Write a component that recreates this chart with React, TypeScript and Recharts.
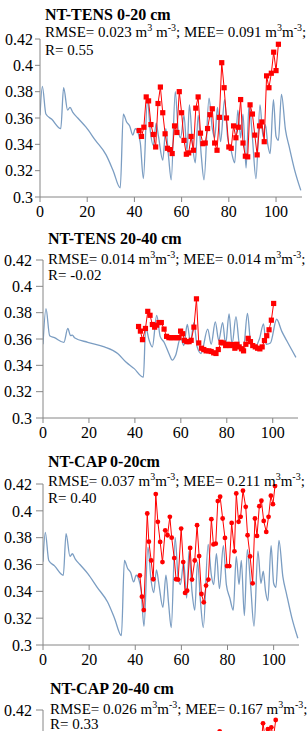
import React from 'react';
import { LineChart, Line, XAxis, YAxis } from 'recharts';

const xTicks = [0, 20, 40, 60, 80, 100];
const yTicks = [0.3, 0.32, 0.34, 0.36, 0.38, 0.4, 0.42];
const yTicksTopOnly = [0.42];

// Simulated soil water content, 0-20 cm (panels 1 and 3)
const model020Days = [0, 1, 2.5, 5, 8.8, 10, 11.7, 12.7, 14, 16, 19.5, 23.5, 28, 31, 34, 35.3, 36.7, 38, 39.3, 40.4, 41.5, 42.5, 43.8, 45.5, 46.8, 48, 49.2, 50.2, 52, 53.3, 54.5, 55.6, 57.3, 58.6, 59.6, 61, 62.3, 63.3, 64.6, 65.8, 67, 68.3, 69.5, 71.6, 73, 74, 75.2, 76.5, 78.2, 79.5, 81, 82.5, 83.8, 85, 86, 87.3, 88.6, 90, 91.5, 93.2, 94.5, 95.5, 96.5, 97.5, 98.9, 100, 101, 102.3, 104, 105.6, 107.8, 110.5];
const model020Vals = [0.362, 0.384, 0.363, 0.359, 0.352, 0.383, 0.366, 0.368, 0.364, 0.36, 0.353, 0.343, 0.332, 0.32, 0.307, 0.363, 0.357, 0.354, 0.347, 0.352, 0.349, 0.341, 0.314, 0.373, 0.349, 0.339, 0.356, 0.346, 0.328, 0.352, 0.33, 0.313, 0.38, 0.35, 0.345, 0.362, 0.335, 0.37, 0.34, 0.326, 0.362, 0.332, 0.313, 0.375, 0.352, 0.345, 0.368, 0.342, 0.374, 0.345, 0.335, 0.326, 0.366, 0.345, 0.363, 0.322, 0.371, 0.345, 0.314, 0.37, 0.346, 0.355, 0.34, 0.333, 0.374, 0.346, 0.343, 0.378, 0.351, 0.338, 0.321, 0.305];

// Simulated soil water content, 20-40 cm (panels 2 and 4)
const model2040Days = [0, 1.3, 2.9, 5, 9.1, 10.8, 12, 12.8, 13.7, 19.5, 26.7, 32.5, 36.1, 39.7, 43.7, 44.7, 46.2, 47.6, 49.5, 51, 52.7, 54.8, 56.3, 57.7, 59.9, 61.3, 62.8, 64.2, 65.7, 67.1, 68.8, 71.7, 73.2, 75, 76.5, 78.2, 79.5, 81, 82.3, 84, 85.6, 87.3, 89, 90.5, 92.4, 94.2, 96, 97.1, 99, 101.7, 103.9, 106, 110.1];
const model2040Vals = [0.356, 0.383, 0.3625, 0.361, 0.3575, 0.368, 0.3625, 0.363, 0.361, 0.3575, 0.354, 0.349, 0.3425, 0.3375, 0.331, 0.369, 0.359, 0.354, 0.378, 0.362, 0.3575, 0.349, 0.344, 0.3475, 0.361, 0.355, 0.371, 0.3575, 0.3725, 0.354, 0.349, 0.3675, 0.356, 0.373, 0.359, 0.3725, 0.356, 0.379, 0.356, 0.377, 0.355, 0.354, 0.3795, 0.356, 0.354, 0.36, 0.3715, 0.356, 0.357, 0.375, 0.366, 0.359, 0.346];

// Observed NT-TENS 0-20 cm
const obsTens020Days = [42, 43, 44, 45, 46, 47, 48, 49, 50, 51, 52, 53, 54, 55, 56, 57, 58, 59, 60, 61, 62, 63, 64, 65, 66, 67, 68, 69, 70, 71, 72, 73, 74, 75, 76, 77, 78, 79, 80, 81, 82, 83, 84, 85, 86, 87, 88, 89, 90, 91, 92, 93, 94, 95, 96, 97, 98, 99, 100, 101];
const obsTens020Vals = [0.3505, 0.346, 0.353, 0.376, 0.373, 0.355, 0.3475, 0.338, 0.371, 0.3835, 0.364, 0.348, 0.337, 0.336, 0.333, 0.354, 0.349, 0.38, 0.364, 0.343, 0.3325, 0.3335, 0.346, 0.3355, 0.3675, 0.376, 0.3485, 0.3405, 0.341, 0.352, 0.3625, 0.367, 0.341, 0.3355, 0.3605, 0.402, 0.383, 0.36, 0.338, 0.337, 0.354, 0.345, 0.353, 0.374, 0.341, 0.331, 0.3305, 0.37, 0.363, 0.347, 0.332, 0.354, 0.357, 0.342, 0.392, 0.383, 0.394, 0.41, 0.396, 0.416];

// Observed NT-TENS 20-40 cm
const obsTens2040Days = [41.6, 42.4, 43.3, 44.6, 45.6, 46.6, 47.6, 48.6, 49.5, 50.5, 51.5, 52.7, 53.8, 54.8, 55.8, 57, 58.2, 59.2, 59.9, 60.8, 61.6, 62.6, 63.6, 64.5, 65.7, 66.8, 67.8, 69, 70, 71, 72.2, 73.2, 74.3, 75.3, 76.3, 77.5, 78.5, 79.5, 80.5, 81.5, 82.5, 83.5, 84.4, 85.4, 86.4, 87.3, 88.3, 89.3, 90.3, 91.3, 92.4, 93.4, 94.4, 95.4, 96.4, 97.4, 98.4, 99.4, 100.4];
const obsTens2040Vals = [0.3695, 0.366, 0.3595, 0.368, 0.381, 0.378, 0.371, 0.369, 0.3705, 0.3725, 0.3725, 0.3675, 0.362, 0.361, 0.361, 0.361, 0.361, 0.361, 0.366, 0.364, 0.359, 0.358, 0.358, 0.359, 0.369, 0.3905, 0.357, 0.353, 0.352, 0.351, 0.351, 0.3505, 0.3495, 0.349, 0.352, 0.3575, 0.357, 0.355, 0.356, 0.355, 0.3558, 0.353, 0.356, 0.354, 0.3525, 0.351, 0.356, 0.3605, 0.358, 0.355, 0.354, 0.353, 0.3525, 0.354, 0.3588, 0.3625, 0.367, 0.3743, 0.387];

// Observed NT-CAP 0-20 cm
const obsCap020Days = [42, 42.9, 43.7, 45.2, 45.9, 46.9, 47.8, 48.9, 49.8, 50.8, 51.8, 53, 54, 55, 55.8, 56.9, 57.7, 58.6, 59.9, 60.8, 61.6, 62.5, 63.8, 64.6, 65.8, 66.8, 67.7, 68.7, 69.7, 70.7, 71.7, 73, 73.9, 74.9, 75.8, 76.8, 77.9, 78.9, 79.8, 80.8, 81.8, 83, 83.8, 84.8, 85.7, 86.7, 87.9, 88.7, 89.8, 90.9, 91.9, 92.8, 93.8, 94.7, 95.7, 96.8, 97.8, 98.8, 99.7, 100.6];
const obsCap020Vals = [0.3518, 0.336, 0.326, 0.398, 0.377, 0.363, 0.349, 0.4125, 0.3918, 0.3768, 0.3618, 0.3855, 0.3818, 0.3955, 0.38, 0.3648, 0.349, 0.3488, 0.3868, 0.3618, 0.3388, 0.3405, 0.3723, 0.3488, 0.363, 0.3893, 0.3663, 0.338, 0.3318, 0.3443, 0.3488, 0.3938, 0.375, 0.3755, 0.4073, 0.4105, 0.3943, 0.3798, 0.3588, 0.3588, 0.391, 0.3698, 0.413, 0.3918, 0.3955, 0.415, 0.403, 0.3818, 0.366, 0.346, 0.3943, 0.3813, 0.4035, 0.4075, 0.3925, 0.3843, 0.3955, 0.4113, 0.405, 0.4185];

// Observed NT-CAP 20-40 cm (only the top of this panel is visible)
const obsCap2040Days = [75.6, 76.6, 77.6, 94.4, 95.4, 96.5, 97.5, 98.3, 99, 99.9, 100.9];
const obsCap2040Vals = [0.392, 0.404, 0.392, 0.39, 0.41, 0.397, 0.4057, 0.398, 0.407, 0.399, 0.4125];

const titles = ['NT-TENS 0-20 cm', 'NT-TENS 20-40 cm', 'NT-CAP 0-20cm', 'NT-CAP 20-40 cm'];
const statLines = [
  'RMSE= 0.023 m^3 m^-3; MEE= 0.091 m^3m^-3;',
  'RMSE= 0.014 m^3m^-3; MEE= 0.014 m^3m^-3;',
  'RMSE= 0.037 m^3m^-3; MEE= 0.211 m^3m^-3;',
  'RMSE= 0.026 m^3m^-3; MEE= 0.167 m^3m^-3;',
];
const rLines = ['R= 0.55', 'R= -0.02', 'R= 0.40', 'R= 0.33'];

const zip = (xs: number[], vs: number[]) => xs.map((x, i) => ({ x, v: vs[i] }));

const FONT = 'Liberation Serif, Tinos, Times New Roman, Times, DejaVu Serif, serif';
const AX = '#868686';
const BLUE = '#7b9dc2';
const RED = '#ff0000';

const panels = [
  { top: 0, height: 227, mTop: 39, axisX: 40, rightX: 302, ySize: 5, yMargin: 2, marker: 'square', cut: false, tx: 45, titleY: 20, statY: 37, rY: 55, model: zip(model020Days, model020Vals), obs: zip(obsTens020Days, obsTens020Vals) },
  { top: 222, height: 226, mTop: 38, axisX: 43, rightX: 298, ySize: 7, yMargin: 4, marker: 'square', cut: false, tx: 48, titleY: 244, statY: 264, rY: 280, model: zip(model2040Days, model2040Vals), obs: zip(obsTens2040Days, obsTens2040Vals) },
  { top: 446, height: 229, mTop: 38, axisX: 43, rightX: 299, ySize: 7, yMargin: 4, marker: 'circle', cut: false, tx: 48, titleY: 467, statY: 486, rY: 503, model: zip(model020Days, model020Vals), obs: zip(obsCap020Days, obsCap020Vals) },
  { top: 672, height: 228, mTop: 38, axisX: 43, rightX: 299, ySize: 7, yMargin: 4, marker: 'circle', cut: true, tx: 50, titleY: 694, statY: 714, rY: 729, model: zip(model2040Days, model2040Vals), obs: zip(obsCap2040Days, obsCap2040Vals) },
];

const fmtY = (v: number) => String(Number(v.toFixed(2)));

function rich(s: string) {
  const parts = s.split(/\^(-?\d)/);
  return parts.map((p, i) => {
    if (i % 2 === 1) {
      return (
        <tspan key={i} dy={-6} fontSize={10}>
          {p}
        </tspan>
      );
    }
    return (
      <tspan key={i} dy={i === 0 ? 0 : 6}>
        {p}
      </tspan>
    );
  });
}

function makeDot(shape: string) {
  return (p: any) => {
    const { cx, cy, index } = p;
    if (cx == null || cy == null) return <g key={`e${index}`} />;
    if (shape === 'square') {
      return <rect key={`d${index}`} x={cx - 2.6} y={cy - 2.6} width={5.2} height={5.2} fill={RED} />;
    }
    return <circle key={`d${index}`} cx={cx} cy={cy} r={2.4} fill={RED} />;
  };
}

const tickStyle = { fill: '#000', fontSize: 16, fontFamily: FONT, style: { fontFamily: FONT } };

function Panel({ cfg }: { cfg: any }) {
  return (
    <div style={{ position: 'absolute', left: 0, top: cfg.top, fontFamily: FONT }}>
      <LineChart
        width={308}
        height={cfg.height}
        margin={{ top: cfg.mTop, right: 308 - cfg.rightX, bottom: cfg.cut ? 30 : 0, left: 0 }}
        style={{ fontFamily: FONT }}
      >
        <XAxis
          type="number"
          dataKey="x"
          domain={[0, 111]}
          ticks={xTicks}
          interval={0}
          allowDataOverflow
          hide={cfg.cut}
          height={30}
          tickSize={5}
          tickMargin={4}
          axisLine={{ stroke: AX }}
          tickLine={{ stroke: AX }}
          tick={tickStyle}
        />
        <YAxis
          type="number"
          domain={[0.3, 0.42]}
          ticks={cfg.cut ? yTicksTopOnly : yTicks}
          interval={0}
          allowDataOverflow
          width={cfg.axisX}
          tickSize={cfg.ySize}
          tickMargin={cfg.yMargin}
          tickFormatter={fmtY}
          axisLine={{ stroke: AX }}
          tickLine={{ stroke: AX }}
          tick={tickStyle}
        />
        <Line
          data={cfg.model}
          dataKey="v"
          type="monotone"
          stroke={BLUE}
          strokeWidth={1.3}
          dot={false}
          activeDot={false}
          isAnimationActive={false}
        />
        <Line
          data={cfg.obs}
          dataKey="v"
          type="linear"
          stroke={RED}
          strokeWidth={1}
          dot={makeDot(cfg.marker)}
          activeDot={false}
          isAnimationActive={false}
        />
      </LineChart>
    </div>
  );
}

export default function App() {
  return (
    <div
      style={{
        position: 'absolute',
        left: 0,
        top: 0,
        width: 308,
        height: 731,
        overflow: 'hidden',
        background: '#fff',
        fontFamily: FONT,
      }}
    >
      {panels.map((cfg, i) => (
        <Panel key={i} cfg={cfg} />
      ))}
      <svg
        width={308}
        height={731}
        style={{ position: 'absolute', left: 0, top: 0, pointerEvents: 'none', fontFamily: FONT }}
      >
        {panels.map((cfg, i) => (
          <g key={i} fill="#000">
            <text x={cfg.tx} y={cfg.titleY} fontSize={16} fontWeight="bold" style={{ fontFamily: FONT }}>
              {titles[i]}
            </text>
            <text x={cfg.tx} y={cfg.statY} fontSize={15} style={{ fontFamily: FONT }}>
              {rich(statLines[i])}
            </text>
            <text x={cfg.tx} y={cfg.rY} fontSize={15} style={{ fontFamily: FONT }}>
              {rLines[i]}
            </text>
          </g>
        ))}
      </svg>
    </div>
  );
}
